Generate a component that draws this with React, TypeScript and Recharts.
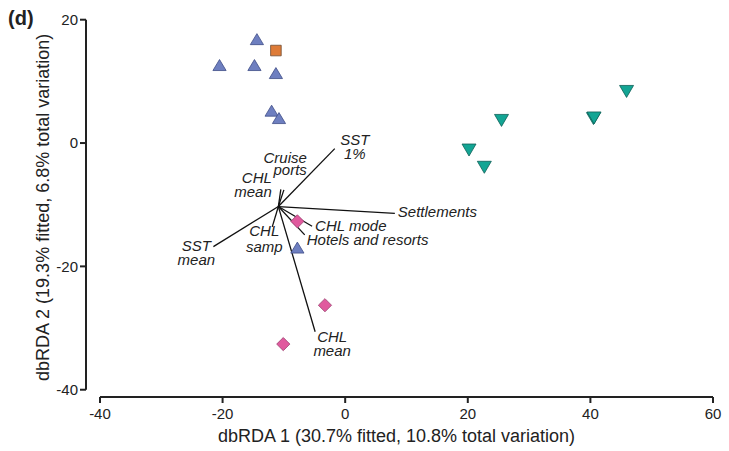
import { ScatterChart, Scatter, XAxis, YAxis, ReferenceLine } from "recharts";

const FONT = '"Liberation Sans", Arial, Helvetica, sans-serif';
const INK = "#222";

// site scores, one array per group
const triangleSites = [
  { x: -14.4, y: 16.8 },
  { x: -20.5, y: 12.6 },
  { x: -14.8, y: 12.6 },
  { x: -11.3, y: 11.3 },
  { x: -12.0, y: 5.2 },
  { x: -10.8, y: 4.0 },
  { x: -7.8, y: -17.0 },
];
const squareSites = [{ x: -11.3, y: 15.0 }];
const downTriangleSites = [
  { x: 45.9, y: 8.4 },
  { x: 40.5, y: 4.0 },
  { x: 40.6, y: 4.1 },
  { x: 25.5, y: 3.7 },
  { x: 20.2, y: -1.1 },
  { x: 22.7, y: -3.9 },
];
const diamondSites = [
  { x: -7.8, y: -12.7 },
  { x: -3.3, y: -26.3 },
  { x: -10.1, y: -32.6 },
];

// predictor vectors, all drawn from one origin
const vectorOrigin = { x: -10.9, y: -10.3 };
const vectorNames = [
  "SST 1%",
  "Cruise ports",
  "CHL mean",
  "Settlements",
  "CHL mode",
  "Hotels and resorts",
  "CHL samp",
  "SST mean",
  "CHL mean",
];
const vectorX = [-1.7, -10.0, -10.5, 8.1, -5.4, -6.6, -11.9, -21.5, -4.9];
const vectorY = [-0.9, -7.6, -7.5, -11.4, -13.5, -14.9, -13.6, -16.8, -30.6];

const xTicks = [-40, -20, 0, 20, 40, 60];
const yTicks = [-40, -20, 0, 20];

// detached axes: the domains run a little past the first ticks
const X_MIN = -42.28;
const Y_MIN = -41.18;

// where each vector label sits relative to the arrow tip (px)
const labelLayout: { anchor: "start" | "middle" | "end"; dx: number; dy: number[] }[] = [
  { anchor: "middle", dx: 20, dy: [-4, 10] },
  { anchor: "end", dx: 23, dy: [-27, -15] },
  { anchor: "end", dx: -9, dy: [-6, 8] },
  { anchor: "start", dx: 3, dy: [4] },
  { anchor: "start", dx: 3, dy: [5] },
  { anchor: "start", dx: 2, dy: [10] },
  { anchor: "middle", dx: -8, dy: [9, 25] },
  { anchor: "middle", dx: -17, dy: [4, 18] },
  { anchor: "middle", dx: 17, dy: [10, 24] },
];

const vectors = vectorNames.map((name, i) => [
  { ...vectorOrigin, idx: -1 },
  { x: vectorX[i], y: vectorY[i], idx: i, name },
]);

function makeMarker(kind: string, fill: string, stroke: string) {
  return (props: any) => {
    const { cx, cy } = props;
    if (cx == null || cy == null) return <g />;
    let pts = "";
    if (kind === "up") {
      pts = `${cx},${cy - 5.8} ${cx + 6.6},${cy + 5.2} ${cx - 6.6},${cy + 5.2}`;
    } else if (kind === "down") {
      pts = `${cx - 7},${cy - 5.8} ${cx + 7},${cy - 5.8} ${cx},${cy + 6.2}`;
    } else if (kind === "diamond") {
      pts = `${cx},${cy - 6.6} ${cx + 6.6},${cy} ${cx},${cy + 6.6} ${cx - 6.6},${cy}`;
    } else {
      pts = `${cx - 5.3},${cy - 5.3} ${cx + 5.3},${cy - 5.3} ${cx + 5.3},${cy + 5.3} ${cx - 5.3},${cy + 5.3}`;
    }
    return <polygon points={pts} fill={fill} stroke={stroke} strokeWidth={0.8} />;
  };
}

function vectorTip(props: any) {
  const { cx, cy, payload } = props;
  if (!payload || payload.idx < 0) return <g />;
  const lay = labelLayout[payload.idx];
  const words: string[] = payload.name.split(" ");
  const lines = lay.dy.length > 1 ? [words[0], words.slice(1).join(" ")] : [payload.name];
  return (
    <g>
      {lines.map((t, j) => (
        <text
          key={j}
          x={cx + lay.dx}
          y={cy + lay.dy[j]}
          textAnchor={lay.anchor}
          fontFamily={FONT}
          fontSize={15}
          fontStyle="italic"
          fill={INK}
        >
          {t}
        </text>
      ))}
    </g>
  );
}

export default function App() {
  return (
    <div style={{ position: "absolute", left: 0, top: 0, width: 729, height: 451, background: "#fff" }}>
      <ScatterChart
        width={729}
        height={451}
        margin={{ top: 19.7, right: 16, bottom: 24, left: 26 }}
      >
        <XAxis
          type="number"
          dataKey="x"
          domain={[X_MIN, 60]}
          ticks={xTicks}
          interval={0}
          allowDataOverflow
          height={30}
          axisLine={false}
          tickSize={6}
          tickMargin={5}
          tickLine={{ stroke: INK, strokeWidth: 2 }}
          tick={{ fill: INK, fontSize: 15, fontFamily: FONT }}
          label={{
            content: (p: any) => {
              const vb = p.viewBox;
              return (
                <text x={vb.x + vb.width / 2 - 3} y={vb.y + 45} textAnchor="middle" fontFamily={FONT} fontSize={18} fill={INK}>
                  dbRDA 1 (30.7% fitted, 10.8% total variation)
                </text>
              );
            },
          }}
        />
        <YAxis
          type="number"
          dataKey="y"
          domain={[Y_MIN, 20]}
          ticks={yTicks}
          interval={0}
          allowDataOverflow
          width={60}
          axisLine={false}
          tickSize={6}
          tickMargin={2}
          tickLine={{ stroke: INK, strokeWidth: 2 }}
          tick={{ fill: INK, fontSize: 15, fontFamily: FONT }}
          label={{
            content: (p: any) => {
              const vb = p.viewBox;
              const x = vb.x + 23;
              const y = vb.y + vb.height / 2 - 1;
              return (
                <text x={x} y={y} transform={`rotate(-90 ${x} ${y})`} textAnchor="middle" fontFamily={FONT} fontSize={18} fill={INK}>
                  dbRDA 2 (19.3% fitted, 6.8% total variation)
                </text>
              );
            },
          }}
        />
        <ReferenceLine
          segment={[{ x: X_MIN, y: -40 }, { x: X_MIN, y: 20 }]}
          stroke={INK}
          strokeWidth={2}
          ifOverflow="visible"
        />
        <ReferenceLine
          segment={[{ x: -40, y: Y_MIN }, { x: 60, y: Y_MIN }]}
          stroke={INK}
          strokeWidth={2}
          ifOverflow="visible"
        />
        {vectors.map((v, i) => (
          <Scatter
            key={`vec-${i}`}
            data={v}
            line={{ stroke: "#111", strokeWidth: 1.3 }}
            shape={vectorTip}
            isAnimationActive={false}
          />
        ))}
        <Scatter data={triangleSites} shape={makeMarker("up", "#6E7FC0", "#3F4C86")} isAnimationActive={false} />
        <Scatter data={squareSites} shape={makeMarker("square", "#DE7B37", "#6E4A30")} isAnimationActive={false} />
        <Scatter data={downTriangleSites} shape={makeMarker("down", "#13A594", "#0E5F57")} isAnimationActive={false} />
        <Scatter data={diamondSites} shape={makeMarker("diamond", "#E05A9E", "#99406E")} isAnimationActive={false} />
      </ScatterChart>
      <svg width={60} height={40} style={{ position: "absolute", left: 0, top: 0 }}>
        <text x={8} y={25} fontFamily={FONT} fontSize={20} fontWeight="bold" fill={INK}>
          (d)
        </text>
      </svg>
    </div>
  );
}
